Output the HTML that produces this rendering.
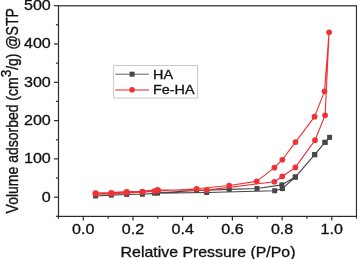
<!DOCTYPE html>
<html><head><meta charset="utf-8"><style>
html,body{margin:0;padding:0;background:#fff;width:357px;height:259px;overflow:hidden}
svg{display:block;will-change:transform;font-family:"Liberation Sans",sans-serif;fill:#111}
text{fill:#111;stroke:#111;stroke-width:0.3px}
</style></head><body>
<svg width="357" height="259" viewBox="0 0 357 259">
<rect x="58.5" y="5.8" width="298.0" height="210.6" fill="none" stroke="#2a2a2a" stroke-width="1.2"/>
<line x1="55.9" y1="216.3" x2="58.5" y2="216.3" stroke="#2a2a2a" stroke-width="1.2"/>
<line x1="54.0" y1="197.2" x2="58.5" y2="197.2" stroke="#2a2a2a" stroke-width="1.2"/>
<line x1="55.9" y1="178.0" x2="58.5" y2="178.0" stroke="#2a2a2a" stroke-width="1.2"/>
<line x1="54.0" y1="158.9" x2="58.5" y2="158.9" stroke="#2a2a2a" stroke-width="1.2"/>
<line x1="55.9" y1="139.8" x2="58.5" y2="139.8" stroke="#2a2a2a" stroke-width="1.2"/>
<line x1="54.0" y1="120.6" x2="58.5" y2="120.6" stroke="#2a2a2a" stroke-width="1.2"/>
<line x1="55.9" y1="101.4" x2="58.5" y2="101.4" stroke="#2a2a2a" stroke-width="1.2"/>
<line x1="54.0" y1="82.3" x2="58.5" y2="82.3" stroke="#2a2a2a" stroke-width="1.2"/>
<line x1="55.9" y1="63.1" x2="58.5" y2="63.1" stroke="#2a2a2a" stroke-width="1.2"/>
<line x1="54.0" y1="44.0" x2="58.5" y2="44.0" stroke="#2a2a2a" stroke-width="1.2"/>
<line x1="55.9" y1="24.8" x2="58.5" y2="24.8" stroke="#2a2a2a" stroke-width="1.2"/>
<line x1="54.0" y1="5.7" x2="58.5" y2="5.7" stroke="#2a2a2a" stroke-width="1.2"/>
<line x1="58.4" y1="216.4" x2="58.4" y2="218.8" stroke="#2a2a2a" stroke-width="1.2"/>
<line x1="83.3" y1="216.4" x2="83.3" y2="220.4" stroke="#2a2a2a" stroke-width="1.2"/>
<line x1="108.2" y1="216.4" x2="108.2" y2="218.8" stroke="#2a2a2a" stroke-width="1.2"/>
<line x1="133.0" y1="216.4" x2="133.0" y2="220.4" stroke="#2a2a2a" stroke-width="1.2"/>
<line x1="157.8" y1="216.4" x2="157.8" y2="218.8" stroke="#2a2a2a" stroke-width="1.2"/>
<line x1="182.7" y1="216.4" x2="182.7" y2="220.4" stroke="#2a2a2a" stroke-width="1.2"/>
<line x1="207.6" y1="216.4" x2="207.6" y2="218.8" stroke="#2a2a2a" stroke-width="1.2"/>
<line x1="232.4" y1="216.4" x2="232.4" y2="220.4" stroke="#2a2a2a" stroke-width="1.2"/>
<line x1="257.2" y1="216.4" x2="257.2" y2="218.8" stroke="#2a2a2a" stroke-width="1.2"/>
<line x1="282.1" y1="216.4" x2="282.1" y2="220.4" stroke="#2a2a2a" stroke-width="1.2"/>
<line x1="306.9" y1="216.4" x2="306.9" y2="218.8" stroke="#2a2a2a" stroke-width="1.2"/>
<line x1="331.8" y1="216.4" x2="331.8" y2="220.4" stroke="#2a2a2a" stroke-width="1.2"/>
<line x1="356.7" y1="216.4" x2="356.7" y2="218.8" stroke="#2a2a2a" stroke-width="1.2"/>
<text transform="translate(50.8,201.6) scale(1.15,1)" text-anchor="end" font-size="14">0</text>
<text transform="translate(50.8,163.3) scale(1.15,1)" text-anchor="end" font-size="14">100</text>
<text transform="translate(50.8,125.0) scale(1.15,1)" text-anchor="end" font-size="14">200</text>
<text transform="translate(50.8,86.7) scale(1.15,1)" text-anchor="end" font-size="14">300</text>
<text transform="translate(50.8,48.4) scale(1.15,1)" text-anchor="end" font-size="14">400</text>
<text transform="translate(50.8,10.1) scale(1.15,1)" text-anchor="end" font-size="14">500</text>
<text transform="translate(83.3,234.3) scale(1.15,1)" text-anchor="middle" font-size="14">0.0</text>
<text transform="translate(133.0,234.3) scale(1.15,1)" text-anchor="middle" font-size="14">0.2</text>
<text transform="translate(182.7,234.3) scale(1.15,1)" text-anchor="middle" font-size="14">0.4</text>
<text transform="translate(232.4,234.3) scale(1.15,1)" text-anchor="middle" font-size="14">0.6</text>
<text transform="translate(282.1,234.3) scale(1.15,1)" text-anchor="middle" font-size="14">0.8</text>
<text transform="translate(331.8,234.3) scale(1.15,1)" text-anchor="middle" font-size="14">1.0</text>
<text transform="translate(208,256.6) scale(1.136,1)" text-anchor="middle" font-size="14">Relative Pressure (P/Po)</text>
<text transform="translate(18.4,110.8) scale(1.15,1) rotate(-90)" text-anchor="middle" font-size="14">Volume adsorbed (cm<tspan dy="-6.3" font-size="13.5">3</tspan><tspan dy="6.3">/g) @STP</tspan></text>
<polyline points="95.60,195.95 111.30,195.15 126.70,194.45 142.40,194.25 157.50,193.10 206.70,192.45 274.70,190.75 282.40,188.65 295.30,177.05 314.70,154.65 325.00,142.35 329.60,137.35 325.00,142.35 314.70,154.65 295.30,177.05 281.90,184.85 257.00,188.45 229.20,189.35 196.60,190.45 154.40,193.10" fill="none" stroke="#464646" stroke-width="1.15" stroke-linejoin="round"/>
<rect x="93.10" y="193.45" width="5" height="5" fill="#464646"/>
<rect x="108.80" y="192.65" width="5" height="5" fill="#464646"/>
<rect x="124.20" y="191.95" width="5" height="5" fill="#464646"/>
<rect x="139.90" y="191.75" width="5" height="5" fill="#464646"/>
<rect x="155.00" y="190.60" width="5" height="5" fill="#464646"/>
<rect x="204.20" y="189.95" width="5" height="5" fill="#464646"/>
<rect x="272.20" y="188.25" width="5" height="5" fill="#464646"/>
<rect x="279.90" y="186.15" width="5" height="5" fill="#464646"/>
<rect x="292.80" y="174.55" width="5" height="5" fill="#464646"/>
<rect x="312.20" y="152.15" width="5" height="5" fill="#464646"/>
<rect x="322.50" y="139.85" width="5" height="5" fill="#464646"/>
<rect x="327.10" y="134.85" width="5" height="5" fill="#464646"/>
<rect x="322.50" y="139.85" width="5" height="5" fill="#464646"/>
<rect x="312.20" y="152.15" width="5" height="5" fill="#464646"/>
<rect x="292.80" y="174.55" width="5" height="5" fill="#464646"/>
<rect x="279.40" y="182.35" width="5" height="5" fill="#464646"/>
<rect x="254.50" y="185.95" width="5" height="5" fill="#464646"/>
<rect x="226.70" y="186.85" width="5" height="5" fill="#464646"/>
<rect x="194.10" y="187.95" width="5" height="5" fill="#464646"/>
<rect x="151.90" y="190.60" width="5" height="5" fill="#464646"/>
<polyline points="95.60,193.55 111.30,193.25 126.70,192.25 142.40,191.85 157.70,190.10 206.70,190.15 274.40,181.75 282.20,176.45 295.40,167.45 315.00,140.20 325.10,115.35 329.10,32.25 324.50,91.35 314.60,116.65 295.50,142.05 282.30,159.75 274.40,167.65 256.70,181.35 229.20,185.55 196.60,188.75 154.50,191.20" fill="none" stroke="#ee3338" stroke-width="1.15" stroke-linejoin="round"/>
<polyline points="95.60,193.55 111.30,193.25 126.70,192.25 142.40,191.85 157.70,190.10" fill="none" stroke="#ee3338" stroke-width="2.3" stroke-linejoin="round"/>
<circle cx="95.60" cy="193.55" r="3.2" fill="#ee3338"/>
<circle cx="111.30" cy="193.25" r="3.2" fill="#ee3338"/>
<circle cx="126.70" cy="192.25" r="3.2" fill="#ee3338"/>
<circle cx="142.40" cy="191.85" r="3.2" fill="#ee3338"/>
<circle cx="157.70" cy="190.10" r="3.2" fill="#ee3338"/>
<circle cx="206.70" cy="190.15" r="2.85" fill="#ee3338"/>
<circle cx="274.40" cy="181.75" r="2.85" fill="#ee3338"/>
<circle cx="282.20" cy="176.45" r="2.85" fill="#ee3338"/>
<circle cx="295.40" cy="167.45" r="2.85" fill="#ee3338"/>
<circle cx="315.00" cy="140.20" r="2.85" fill="#ee3338"/>
<circle cx="325.10" cy="115.35" r="2.85" fill="#ee3338"/>
<circle cx="329.10" cy="32.25" r="2.85" fill="#ee3338"/>
<circle cx="324.50" cy="91.35" r="2.85" fill="#ee3338"/>
<circle cx="314.60" cy="116.65" r="2.85" fill="#ee3338"/>
<circle cx="295.50" cy="142.05" r="2.85" fill="#ee3338"/>
<circle cx="282.30" cy="159.75" r="2.85" fill="#ee3338"/>
<circle cx="274.40" cy="167.65" r="2.85" fill="#ee3338"/>
<circle cx="256.70" cy="181.35" r="2.85" fill="#ee3338"/>
<circle cx="229.20" cy="185.55" r="2.85" fill="#ee3338"/>
<circle cx="196.60" cy="188.75" r="2.85" fill="#ee3338"/>
<circle cx="154.50" cy="191.20" r="2.85" fill="#ee3338"/>
<rect x="113.7" y="65.4" width="83.8" height="32.7" fill="#fff" stroke="#bbb" stroke-width="0.8"/>
<line x1="115.3" y1="74.2" x2="148.9" y2="74.2" stroke="#666" stroke-width="1"/>
<rect x="129.6" y="71.7" width="5" height="5" fill="#464646"/>
<line x1="115.3" y1="89.9" x2="148.9" y2="89.9" stroke="#f26868" stroke-width="1.45"/>
<circle cx="132.1" cy="89.8" r="2.8" fill="#ee3338"/>
<text transform="translate(153,78.6) scale(1.15,1)" font-size="12.5">HA</text>
<text transform="translate(153,93.8) scale(1.15,1)" font-size="12.5">Fe-HA</text>
</svg>
</body></html>
